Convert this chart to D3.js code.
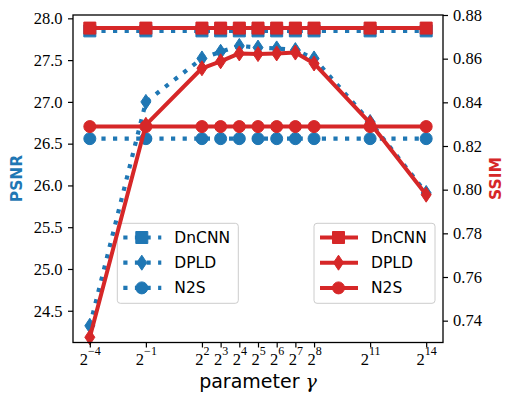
<!DOCTYPE html>
<html><head><meta charset="utf-8">
<script src="https://cdn.jsdelivr.net/npm/d3@7"></script>
<style>body{margin:0;background:#fff}svg{display:block}</style>
</head><body>
<script>
// ---- data ----
const gammas = [0.0625, 0.5, 4, 8, 16, 32, 64, 128, 256, 2048, 16384];
const tickExponents = [-4, -1, 2, 3, 4, 5, 6, 7, 8, 11, 14];
const psnrDnCNN = [27.85, 27.85, 27.85, 27.85, 27.85, 27.85, 27.85, 27.85, 27.85, 27.85, 27.85];
const psnrDPLD  = [24.32, 27.00, 27.52, 27.60, 27.67, 27.65, 27.64, 27.62, 27.52, 26.76, 25.91];
const psnrN2S   = [26.56, 26.56, 26.56, 26.56, 26.56, 26.56, 26.56, 26.56, 26.56, 26.56, 26.56];
const ssimDnCNN = [0.8740, 0.8740, 0.8740, 0.8740, 0.8740, 0.8740, 0.8740, 0.8740, 0.8740, 0.8740, 0.8740];
const ssimDPLD  = [0.7324, 0.8297, 0.8556, 0.8588, 0.8624, 0.8621, 0.8624, 0.8628, 0.8578, 0.8305, 0.7977];
const ssimN2S   = [0.8289, 0.8289, 0.8289, 0.8289, 0.8289, 0.8289, 0.8289, 0.8289, 0.8289, 0.8289, 0.8289];
const psnrTicks = [24.5, 25.0, 25.5, 26.0, 26.5, 27.0, 27.5, 28.0];
const ssimTicks = [0.74, 0.76, 0.78, 0.80, 0.82, 0.84, 0.86, 0.88];
const methods = ["DnCNN", "DPLD", "N2S"];
const markers = ["square", "diamond", "circle"];

const W = 506, H = 399;
const blue = "#1f77b4", red = "#d62728";
const L = 73, R = 443, T = 15, B = 342.5;

const svg = d3.select("body").append("svg").attr("width", W).attr("height", H)
  .style("background", "#fff");

const x = d3.scaleLog().base(2).domain([Math.pow(2, -4.9), Math.pow(2, 14.9)]).range([L, R]);
const yL = d3.scaleLinear().domain([24.12, 28.04]).range([B, T]);
const yR = d3.scaleLinear().domain([0.730, 0.880]).range([B, T]);

function markerPath(type) {
  if (type === "square") return "M-6,-6H6V6H-6Z";
  if (type === "diamond") return "M0,-7.5L5,0L0,7.5L-5,0Z";
  return d3.symbol(d3.symbolCircle, Math.PI * 36)();
}

const clipId = "plotclip";
svg.append("clipPath").attr("id", clipId).append("rect")
  .attr("x", L - 10).attr("y", T - 10).attr("width", R - L + 20).attr("height", B - T + 20);

function drawSeries(g, vals, yScale, color, dotted, marker) {
  const line = d3.line().x((d, i) => x(gammas[i])).y(d => yScale(d));
  g.append("path").datum(vals).attr("d", line)
    .attr("fill", "none").attr("stroke", color)
    .attr("stroke-width", dotted ? 4.2 : 4)
    .attr("stroke-dasharray", dotted ? "4.2,7.4" : null)
    .attr("stroke-linejoin", "round")
    .attr("stroke-linecap", dotted ? "butt" : "square");
  g.selectAll(null).data(vals).enter().append("path")
    .attr("d", markerPath(marker))
    .attr("transform", (d, i) => `translate(${x(gammas[i])},${yScale(d)})`)
    .attr("fill", color).attr("stroke", color).attr("stroke-width", 1);
}

function drawLegend(left, color, dotted) {
  const top = 223.3, w = 121, h = 80;
  const g = svg.append("g");
  g.append("rect").attr("x", left).attr("y", top).attr("width", w).attr("height", h)
    .attr("rx", 3).attr("fill", "#fff").attr("fill-opacity", 0.8)
    .attr("stroke", "#cccccc").attr("stroke-width", 1);
  methods.forEach((m, i) => {
    const cy = 237.5 + i * 25.2;
    g.append("line").attr("x1", left + 6).attr("x2", left + 44).attr("y1", cy).attr("y2", cy)
      .attr("stroke", color).attr("stroke-width", dotted ? 4.2 : 4)
      .attr("stroke-dasharray", dotted ? "4.2,7.4" : null);
    g.append("path").attr("d", markerPath(markers[i]))
      .attr("transform", `translate(${left + 24.5},${cy})`)
      .attr("fill", color).attr("stroke", color);
    g.append("text").attr("x", left + 57).attr("y", cy).attr("dy", "0.36em")
      .attr("font-family", "DejaVu Sans").attr("font-size", 15.5).attr("fill", "#000")
      .text(m);
  });
}

// blue (PSNR) axes content
const gB = svg.append("g").attr("clip-path", `url(#${clipId})`);
drawSeries(gB, psnrDnCNN, yL, blue, true, "square");
drawSeries(gB, psnrDPLD, yL, blue, true, "diamond");
drawSeries(gB, psnrN2S, yL, blue, true, "circle");
drawLegend(117.3, blue, true);

// red (SSIM) axes content
const gR = svg.append("g").attr("clip-path", `url(#${clipId})`);
drawSeries(gR, ssimDnCNN, yR, red, false, "square");
drawSeries(gR, ssimDPLD, yR, red, false, "diamond");
drawSeries(gR, ssimN2S, yR, red, false, "circle");
drawLegend(314, red, false);

// frame
svg.append("rect").attr("x", L).attr("y", T).attr("width", R - L).attr("height", B - T)
  .attr("fill", "none").attr("stroke", "#000").attr("stroke-width", 1.3);

// axes
const tickFont = "'Liberation Serif', 'DejaVu Serif', serif";
const axL = svg.append("g").attr("transform", `translate(${L},0)`)
  .call(d3.axisLeft(yL).tickValues(psnrTicks).tickFormat(d3.format(".1f")).tickSize(5).tickPadding(5.5));
const axR = svg.append("g").attr("transform", `translate(${R},0)`)
  .call(d3.axisRight(yR).tickValues(ssimTicks).tickFormat(d3.format(".2f")).tickSize(5).tickPadding(5));
const axB = svg.append("g").attr("transform", `translate(0,${B})`)
  .call(d3.axisBottom(x).tickValues(gammas).tickFormat(() => "").tickSize(5));
[axL, axR, axB].forEach(a => {
  a.select(".domain").remove();
  a.selectAll(".tick line").attr("stroke", "#000").attr("stroke-width", 1.2);
  a.selectAll("text").attr("font-family", tickFont).attr("font-size", 16.5).attr("fill", "#000");
});
axB.selectAll(".tick text").each(function (d, i) {
  const t = d3.select(this);
  t.text(null).attr("dy", null).attr("y", 22.5);
  t.append("tspan").text("2");
  const e = tickExponents[i];
  t.append("tspan").attr("dy", -10.5).attr("font-size", 12)
    .text(e < 0 ? "\u2212" + Math.abs(e) : String(e));
});

// labels
svg.append("text").attr("x", 258).attr("y", 388).attr("text-anchor", "middle")
  .attr("font-family", "DejaVu Sans").attr("font-size", 19).attr("fill", "#000")
  .call(t => {
    t.append("tspan").text("parameter ");
    t.append("tspan").attr("font-family", "'DejaVu Serif', serif").attr("font-style", "italic").text("\u03b3");
  });
svg.append("text").attr("transform", "translate(22,178.5) rotate(-90)")
  .attr("text-anchor", "middle").attr("font-family", "DejaVu Sans").attr("font-weight", "bold")
  .attr("font-size", 15.5).attr("fill", blue).text("PSNR");
svg.append("text").attr("transform", "translate(501,178.5) rotate(-90)")
  .attr("text-anchor", "middle").attr("font-family", "DejaVu Sans").attr("font-weight", "bold")
  .attr("font-size", 15.5).attr("fill", red).text("SSIM");
</script>
</body></html>
